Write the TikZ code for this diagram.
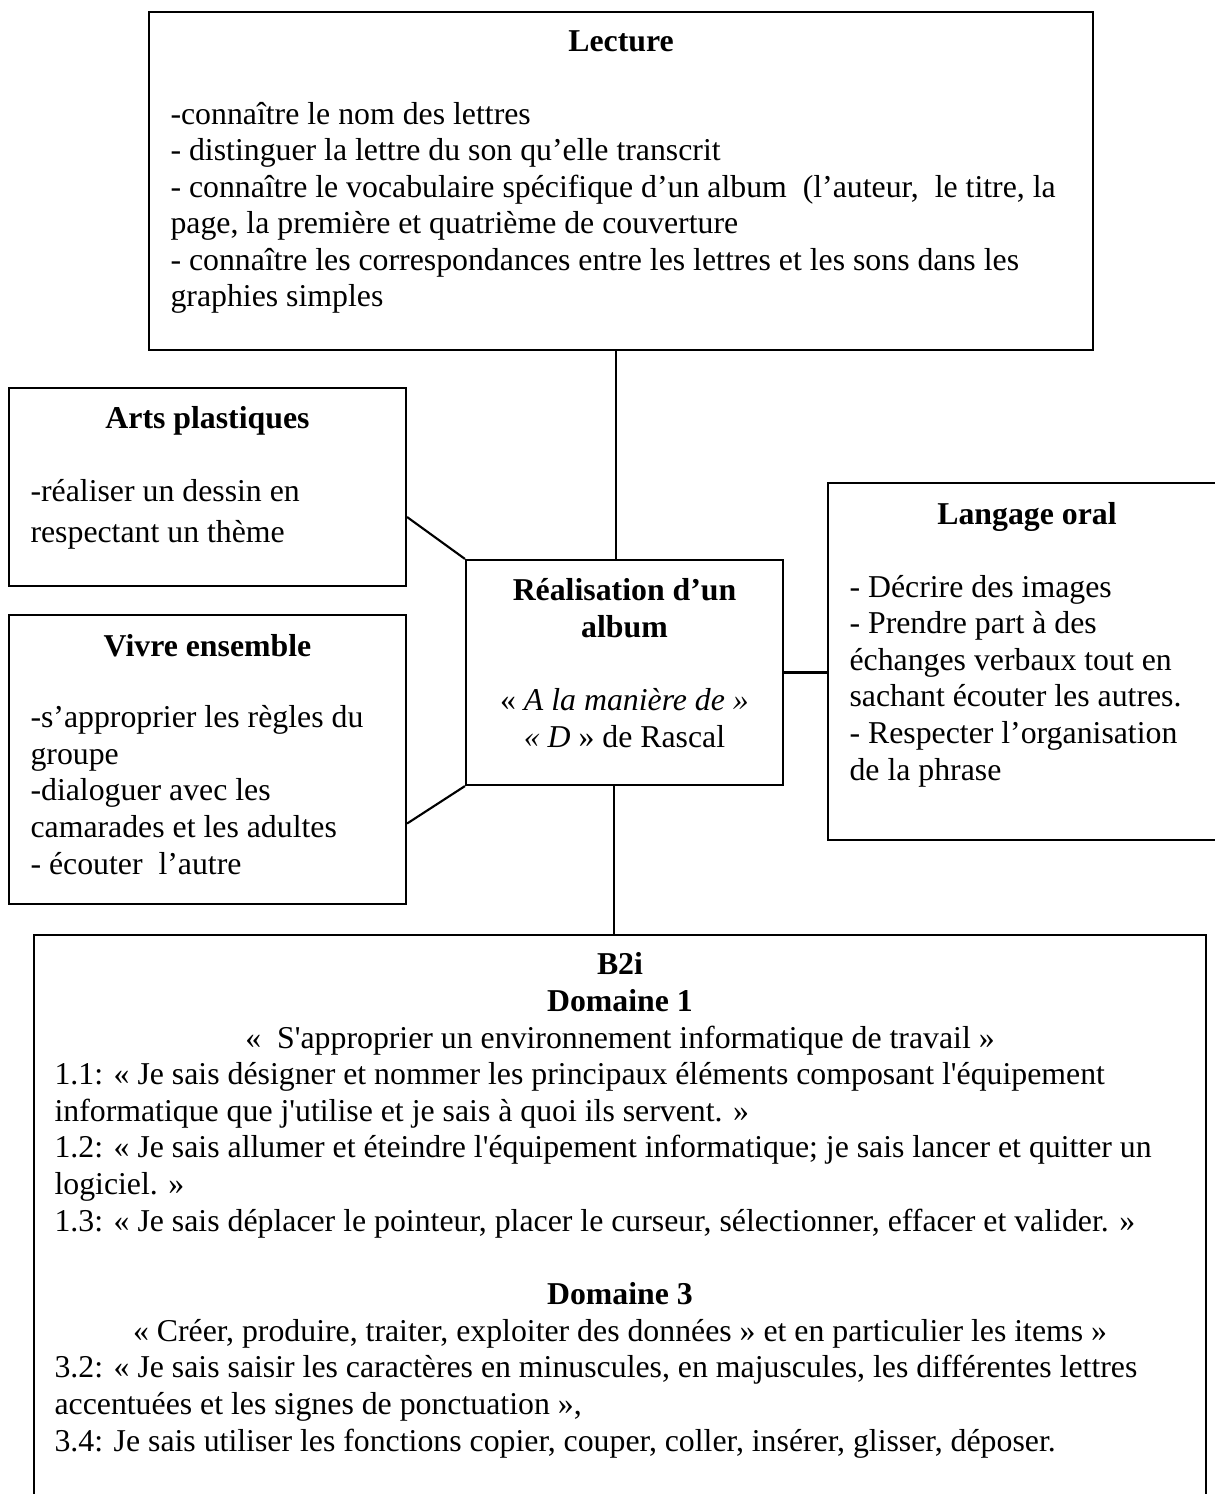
\documentclass[tikz,border=0pt]{standalone}
\usepackage{fontspec}
\setmainfont{Liberation Serif}
\usetikzlibrary{fit, calc}
\newcommand{\pxu}{0.3774pt}
\newcommand{\bodyfont}{\fontsize{12}{13.8}\selectfont}
\newcommand{\sq}{\textquotesingle}

\begin{document}
\begin{tikzpicture}[x=\pxu, y=-\pxu, font=\bodyfont,
  box/.style={draw, line width=0.8pt, inner sep=0pt},
  ttl/.style={font=\bodyfont\bfseries, anchor=base, inner sep=0pt},
  items/.style={align=left, anchor=base west, inner sep=0pt},
  link/.style={line width=0.8pt}]
\useasboundingbox (0,0) rectangle (1214,1494);
% boxes
\node[box, fit={(149,12) (1093,350)}] (lect) {};
\node[box, fit={(9,388) (406,586)}] (arts) {};
\node[box, fit={(9,615) (406,904)}] (vivre) {};
\node[box, fit={(466,560) (783,785)}] (real) {};
\node[box, fit={(828,483) (1226,840)}] (lang) {};
\node[box, fit={(34,935) (1206,1510)}] (b2i) {};
% Lecture (multi-line nodes sit on their last baseline)
\node[ttl] (lectT) at (621,52) {Lecture};
\node[items] (lectL) at (170,307) {-connaître le nom des lettres\\
- distinguer la lettre du son qu’elle transcrit\\
- connaître le vocabulaire spécifique d’un album\ \ (l’auteur,\ \ le titre, la\\
page, la première et quatrième de couverture\\
- connaître les correspondances entre les lettres et les sons dans les\\
graphies simples};
% Arts plastiques
\node[ttl] (artsT) at (207.5,429) {Arts plastiques};
\node[items, font=\fontsize{12}{15.1}\selectfont] (artsL) at (30,542) {-réaliser un dessin en\\
respectant un thème};
% Vivre ensemble
\node[ttl] (vivreT) at (207.5,656) {Vivre ensemble};
\node[items] (vivreL) at (30,874) {-s’approprier les règles du\\
groupe\\
-dialoguer avec les\\
camarades et les adultes\\
- écouter\ \ l’autre};
% centre
\node[align=center, anchor=base, inner sep=0pt] (realT) at (624.5,747) {\textbf{Réalisation d’un}\\
\textbf{album}\\[13.8pt]
« \textit{A la manière de »}\\
\textit{« D} » de Rascal};
% Langage oral
\node[ttl] (langT) at (1027,524) {Langage oral};
\node[items] (langL) at (849,780) {- Décrire des images\\
- Prendre part à des\\
échanges verbaux tout en\\
sachant écouter les autres.\\
- Respecter l’organisation\\
de la phrase};
% B2i
\node[align=center, anchor=base, inner sep=0pt] (b2iT) at (620,1048) {\textbf{B2i}\\
\textbf{Domaine 1}\\
«\ \ S\sq approprier un environnement informatique de travail »};
\node[items] (b2iA) at (54,1231) {1.1: « Je sais désigner et nommer les principaux éléments composant l\sq équipement\\
informatique que j\sq utilise et je sais à quoi ils servent. »\\
1.2: « Je sais allumer et éteindre l\sq équipement informatique; je sais lancer et quitter un\\
logiciel. »\\
1.3: « Je sais déplacer le pointeur, placer le curseur, sélectionner, effacer et valider. »};
\node[align=center, anchor=base, inner sep=0pt] (b2iD) at (620,1341) {\textbf{Domaine 3}\\
« Créer, produire, traiter, exploiter des données » et en particulier les items »};
\node[items] (b2iB) at (54,1451) {3.2: « Je sais saisir les caractères en minuscules, en majuscules, les différentes lettres\\
accentuées et les signes de ponctuation »,\\
3.4: Je sais utiliser les fonctions copier, couper, coller, insérer, glisser, déposer.};
% connectors
\draw[link] ([xshift=-1.9pt]lect.south) -- ([xshift=-1.9pt]lect.south |- real.north);
\draw[link] ($(arts.north east)!0.65!(arts.south east)$) -- (real.north west);
\draw[link] ($(vivre.north east)!0.72!(vivre.south east)$) -- (real.south west);
\draw[link] (real.east) -- (real.east -| lang.west);
\draw[link] ([xshift=-4pt]real.south) -- ([xshift=-4pt]real.south |- b2i.north);
\end{tikzpicture}
\end{document}
